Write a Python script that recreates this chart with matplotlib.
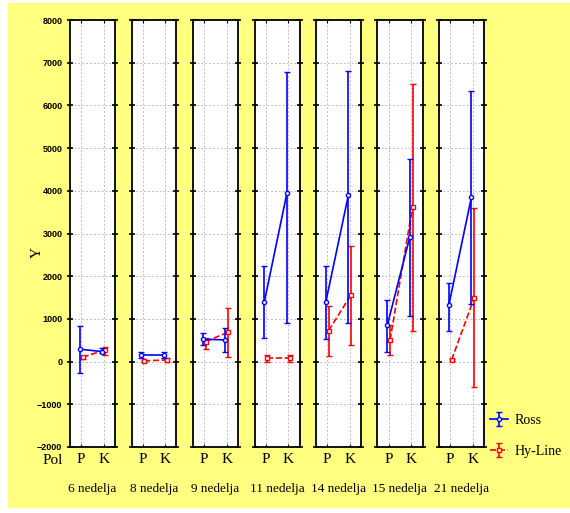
import matplotlib
matplotlib.use('Agg')
import matplotlib.pyplot as plt
from matplotlib.patches import Rectangle

# weeks (one panel each)
weeks = ['6 nedelja', '8 nedelja', '9 nedelja', '11 nedelja',
         '14 nedelja', '15 nedelja', '21 nedelja']
sexes = ['P', 'K']

# Ross: mean, lower and upper limits for P and K
ross_p_mean = [290, 157, 525, 1405, 1405, 860, 1328]
ross_p_lo = [-258, 80, 391, 548, 532, 220, 726]
ross_p_hi = [836, 234, 665, 2248, 2241, 1445, 1850]
ross_k_mean = [234, 157, 508, 3944, 3900, 2928, 3850]
ross_k_lo = [197, 80, 234, 913, 913, 1070, 1351]
ross_k_hi = [314, 234, 782, 6792, 6800, 4740, 6347]

# Hy-Line: mean, lower and upper limits for P and K
hy_p_mean = [103, 16, 468, 80, 726, 508, 40]
hy_p_lo = [60, 0, 290, 0, 141, 157, 20]
hy_p_hi = [140, 40, 562, 157, 1312, 860, 60]
hy_k_mean = [274, 40, 688, 80, 1562, 3630, 1484]
hy_k_lo = [157, 0, 117, 0, 391, 726, -600]
hy_k_hi = [350, 80, 1265, 157, 2710, 6496, 3607]

yticks = [-2000, -1000, 0, 1000, 2000, 3000, 4000, 5000, 6000, 7000, 8000]

W, H = 570, 513
fig = plt.figure(figsize=(W / 100, H / 100), dpi=100)
fig.patch.set_facecolor('white')
fig.patches.append(Rectangle((8 / W, 5 / H), 1 - 8 / W, 1 - 8 / H,
                             transform=fig.transFigure, facecolor='#ffff80',
                             edgecolor='none', zorder=-10))

serif = 'Liberation Serif'

def px_axes(left, top, width, height):
    return fig.add_axes([left / W, 1 - (top + height) / H, width / W, height / H])

ross_kw = dict(color='#0000ff', marker='o', mfc='white', ms=3, mew=1,
               ls='-', lw=1.2, capsize=2, elinewidth=1.2, capthick=1.2)
hy_kw = dict(color='#ff0000', marker='s', mfc='white', ms=3, mew=1,
             ls='--', lw=1.2, capsize=2, elinewidth=1.2, capthick=1.2)

handles = []
for i, week in enumerate(weeks):
    left = 70 + i * 61.5
    ax = px_axes(left, 20, 45, 427)
    ax.set_facecolor('white')

    # Ross, shifted slightly left
    rm = [ross_p_mean[i], ross_k_mean[i]]
    rerr = [[ross_p_mean[i] - ross_p_lo[i], ross_k_mean[i] - ross_k_lo[i]],
            [ross_p_hi[i] - ross_p_mean[i], ross_k_hi[i] - ross_k_mean[i]]]
    h1 = ax.errorbar([0.94, 1.94], rm, yerr=rerr, label='Ross', zorder=3, **ross_kw)

    # Hy-Line, shifted slightly right
    hm = [hy_p_mean[i], hy_k_mean[i]]
    herr = [[hy_p_mean[i] - hy_p_lo[i], hy_k_mean[i] - hy_k_lo[i]],
            [hy_p_hi[i] - hy_p_mean[i], hy_k_hi[i] - hy_k_mean[i]]]
    h2 = ax.errorbar([1.06, 2.06], hm, yerr=herr, label='Hy-Line', zorder=2, **hy_kw)
    handles = [h1, h2]

    ax.set_xlim(0.5, 2.5)
    ax.set_ylim(-2000, 8000)
    ax.set_xticks([1, 2])
    ax.set_xticklabels(sexes, family=serif, fontsize=11)
    ax.set_yticks(yticks)
    ax.grid(True, ls=(0, (2, 2)), color='#bdbdbd', lw=0.7)
    ax.set_axisbelow(True)
    ax.tick_params(axis='y', direction='inout', length=4, width=1.2,
                   left=True, right=True, labelsize=6.5)
    ax.tick_params(axis='x', direction='in', length=2, top=True, pad=4)
    for s in ax.spines.values():
        s.set_linewidth(1.3)
    if i == 0:
        for lab in ax.get_yticklabels():
            lab.set_family('Liberation Sans')
            lab.set_fontweight('bold')
    else:
        ax.set_yticklabels([])

    fig.text((left + 22.5) / W, 1 - 489 / H, week, family=serif, fontsize=9.5,
             ha='center', va='center')

fig.text(53 / W, 1 - 461 / H, 'Pol', family=serif, fontsize=11, ha='center', va='center')
fig.text(37 / W, 1 - 252 / H, 'Y', family=serif, fontsize=11, rotation=90,
         ha='center', va='center')

fig.legend(handles, ['Ross', 'Hy-Line'], loc='upper left',
           bbox_to_anchor=(484 / W, 1 - 408 / H), frameon=False,
           prop={'family': serif, 'size': 10}, labelspacing=1.3,
           handlelength=1.3, handletextpad=0.5, borderaxespad=0)

fig.savefig('out.png', dpi=100, facecolor=fig.get_facecolor())
